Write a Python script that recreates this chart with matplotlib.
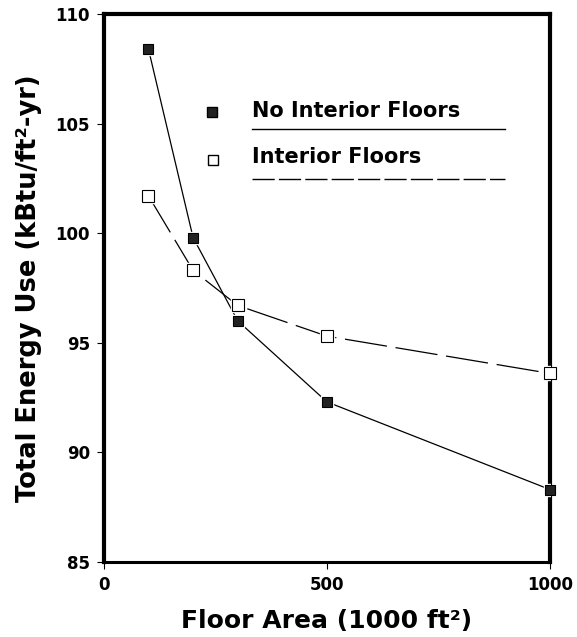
import matplotlib
matplotlib.use("Agg")
import matplotlib.pyplot as plt

floor_area = [100, 200, 300, 500, 1000]
no_interior = [108.4, 99.8, 96.0, 92.3, 88.3]
interior = [101.7, 98.3, 96.7, 95.3, 93.6]

xticks = [0, 500, 1000]
yticks = [85, 90, 95, 100, 105, 110]

plt.rcParams["font.family"] = ["DejaVu Sans"]

fig = plt.figure(figsize=(5.77, 6.37), dpi=100)
ax = fig.add_axes([0.180, 0.118, 0.773, 0.860])

# lines first, then a white halo so the lines stop short of the markers
ax.plot(floor_area, no_interior, color="black", lw=0.9, zorder=2)
ax.plot(floor_area, interior, color="black", lw=0.9, dashes=(34, 7), zorder=2)
ax.plot(floor_area, no_interior, "s", ms=9, color="white", zorder=3)
ax.plot(floor_area, interior, "s", ms=10, color="white", zorder=3)
ax.plot(floor_area, no_interior, "s", ms=7, mfc="#222222", mec="black", mew=0.8,
        zorder=4, clip_on=False)
ax.plot(floor_area, interior, "s", ms=8, mfc="white", mec="black", mew=0.8,
        zorder=4, clip_on=False)

ax.set_xlim(0, 1000)
ax.set_ylim(85, 110)
ax.set_xticks(xticks)
ax.set_yticks(yticks)
ax.tick_params(axis="both", direction="out", length=5, width=0.8, labelsize=12,
               pad=5)
for lab in ax.get_xticklabels() + ax.get_yticklabels():
    lab.set_fontweight("bold")

for side in ["left", "top", "right"]:
    ax.spines[side].set_linewidth(3.0)
ax.spines["bottom"].set_linewidth(2.2)

ax.set_xlabel("Floor Area (1000 ft²)", fontsize=18, fontweight="bold",
              labelpad=11)
ax.set_ylabel("Total Energy Use (kBtu/ft²-yr)", fontsize=18.5,
              fontweight="bold", labelpad=10)

# legend drawn by hand, underlined like the original
tr = ax.transAxes
ax.plot([0.242], [0.821], "s", ms=7, mfc="#222222", mec="black", transform=tr)
ax.text(0.332, 0.823, "No Interior Floors", transform=tr, fontsize=15,
        fontweight="bold", va="center", ha="left")
ax.plot([0.332, 0.899], [0.790, 0.790], color="black", lw=1.0, transform=tr)
ax.plot([0.244], [0.734], "s", ms=7, mfc="white", mec="black", transform=tr)
ax.text(0.332, 0.739, "Interior Floors", transform=tr, fontsize=15,
        fontweight="bold", va="center", ha="left")
ax.plot([0.332, 0.899], [0.699, 0.699], color="black", lw=1.0,
        dashes=(16, 3), transform=tr)

fig.savefig("out.png", dpi=100)
